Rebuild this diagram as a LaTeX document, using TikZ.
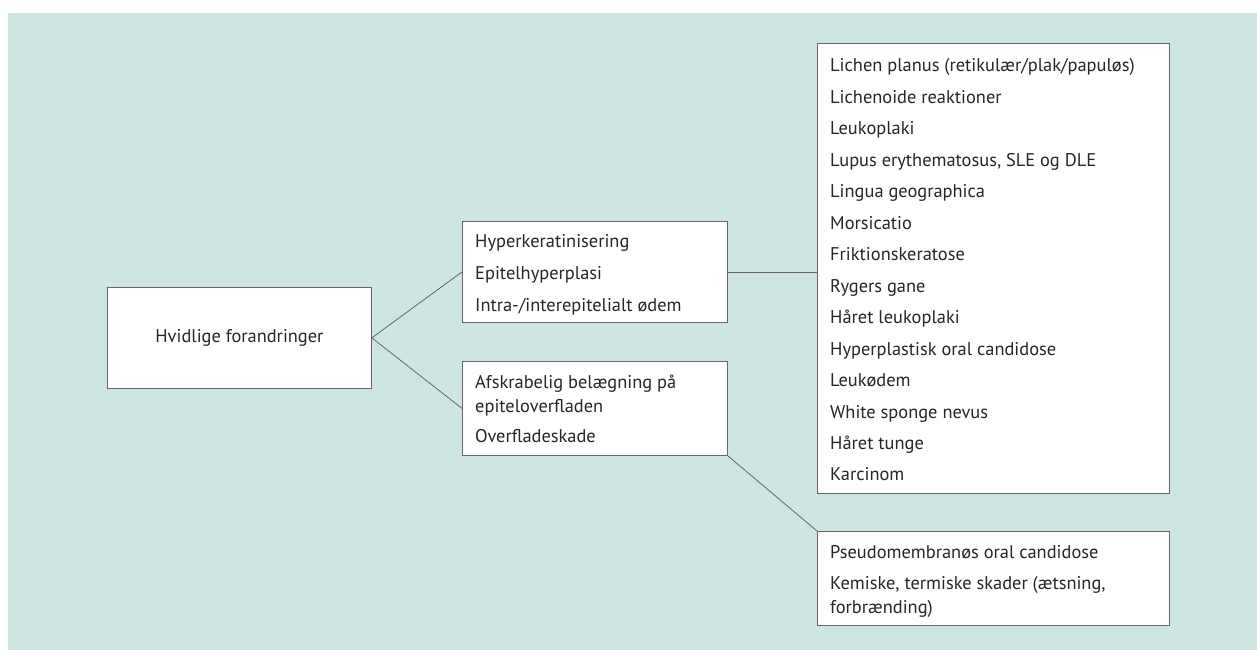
\documentclass[tikz,border=0pt]{standalone}
\usepackage{fontspec}
\setmainfont{PT Sans}
\definecolor{bg}{RGB}{205,230,226}
\definecolor{edge}{RGB}{105,98,110}
\definecolor{txt}{RGB}{38,38,38}
\begin{document}
\begin{tikzpicture}[x=1bp,y=-1bp,
  box/.style={draw=edge, fill=white, line width=0.8bp, inner sep=0, anchor=north west},
  item/.style={anchor=base west, inner sep=0, text=txt, font=\fontsize{18.4bp}{22bp}\selectfont},
  link/.style={draw=edge, line width=0.8bp}]
\useasboundingbox (0,0) rectangle (1257,650);
\fill[bg] (8,13) rectangle (1257,650);
% boxes
\node[box, minimum width=264bp, minimum height=101bp, text=txt, font=\fontsize{18.4bp}{22bp}\selectfont] (root) at (107,287) {Hvidlige forandringer};
\node[box, minimum width=265bp, minimum height=101bp] (a) at (462,221) {};
\node[box, minimum width=265bp, minimum height=94bp] (b) at (462,361) {};
\node[box, minimum width=352bp, minimum height=450bp] (r) at (817,43) {};
\node[box, minimum width=352bp, minimum height=94bp] (d) at (817,531) {};
% connectors
\draw[link] (root.east) -- (a.west);
\draw[link] (root.east) -- (b.west);
\draw[link] (a.east) -- (a.east -| r.west);
\draw[link] (b.south east) -- (d.north west);
% texts
\node[item] (a1) at (475,248) {Hyperkeratinisering};
\node[item] (a2) at (475,279.5) {Epitelhyperplasi};
\node[item] (a3) at (475,311) {Intra-/interepitelialt ødem};
\node[item] (b1) at (475,388) {Afskrabelig belægning på};
\node[item] (b2) at (475,412) {epiteloverfladen};
\node[item] (b3) at (475,442) {Overfladeskade};
\foreach \t [count=\i] in {Lichen planus (retikulær/plak/papuløs), Lichenoide reaktioner, Leukoplaki, {Lupus erythematosus, SLE og DLE}, Lingua geographica, Morsicatio, Friktionskeratose, Rygers gane, Håret leukoplaki, Hyperplastisk oral candidose, Leukødem, White sponge nevus, Håret tunge, Karcinom}
  \node[item] (r\i) at (830,{72+(\i-1)*31.46}) {\t};
\node[item] (d1) at (830,558) {Pseudomembranøs oral candidose};
\node[item] (d2) at (830,589) {Kemiske, termiske skader (ætsning,};
\node[item] (d3) at (830,613) {forbrænding)};
\end{tikzpicture}
\end{document}
